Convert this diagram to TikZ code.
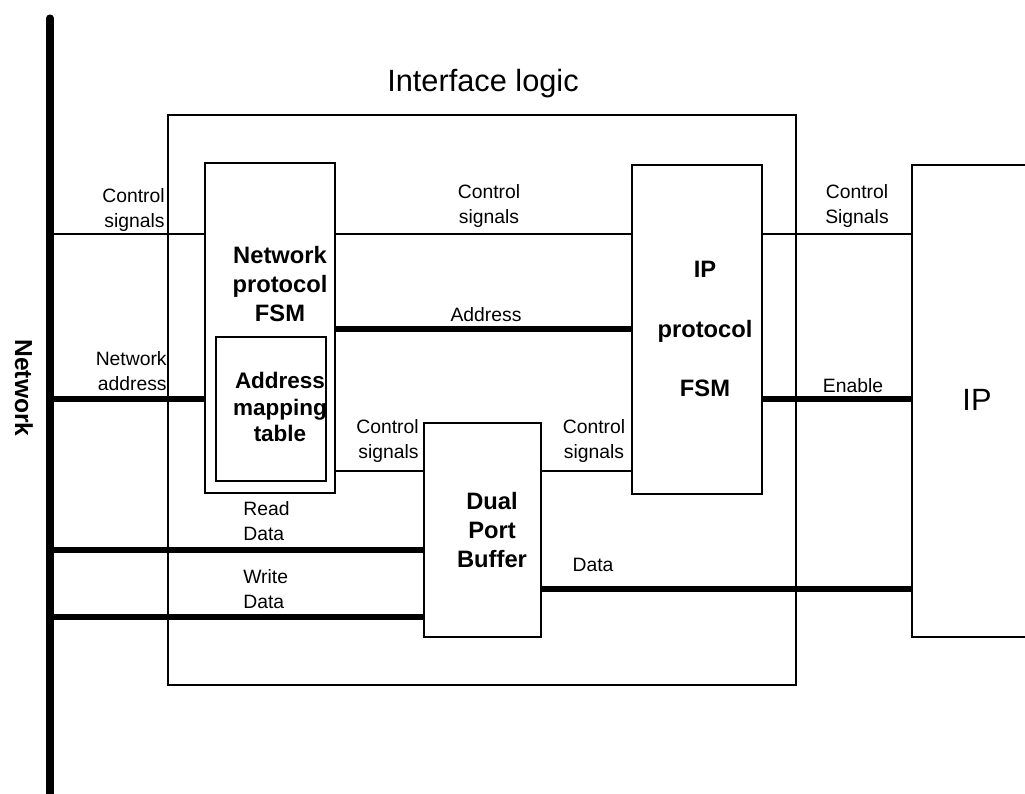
\documentclass[tikz,border=0pt]{standalone}
\usepackage{fontspec}
\setmainfont{Liberation Sans}
\usetikzlibrary{fit,positioning}
\tikzset{
myBlock/.style={
	draw, line width=0.7pt, inner sep=0pt
}
, myName/.style={
	font=\bfseries\fontsize{13.5}{16.4}\selectfont,
	align=center, inner sep=0pt
}
, myLabel/.style={
	font=\fontsize{11}{14.5}\selectfont,
	align=center, inner sep=0pt
}
% wires
, mySig/.style={line width=1.1pt}
, myBus/.style={line width=3pt}
, myNet/.style={line width=4pt,line cap=round}
}

\begin{document}
\begin{tikzpicture}[x=0.02cm,y=-0.02cm]
	\clip (0,0) rectangle (1025,794);
	% network
	\coordinate (NetTop) at (50,18);
	\coordinate (NetBot) at (50,810);
	\draw [myNet] (NetTop) -- (NetBot);
	\node[font=\bfseries\fontsize{14}{16}\selectfont, rotate=-90, inner sep=0pt] (Net) at (24,388) {Network};
	% rows on the network
	\coordinate (rowCtl) at (50,234);
	\coordinate (rowAddr) at (50,329);
	\coordinate (rowNetAddr) at (50,399);
	\coordinate (rowCtlB) at (50,471);
	\coordinate (rowRead) at (50,550);
	\coordinate (rowData) at (50,589);
	\coordinate (rowWrite) at (50,617);
	% blocks
	\node[myBlock, fit={(168,115) (796,685)}] (Iface) {};
	\node[font=\fontsize{17.5}{20}\selectfont, inner sep=0pt] (IfaceName) at (483,84) {Interface logic};
	\node[myBlock, fit={(205,163) (335,493)}] (NetFSM) {};
	\node[myBlock, fit={(216,337) (326,481)}] (AddrTab) {};
	\node[myBlock, fit={(632,165) (762,494)}] (IPFSM) {};
	\node[myBlock, fit={(424,423) (541,637)}] (Buf) {};
	\node[myBlock, fit={(912,165) (1080,637)}] (IP) {};
	% block names
	\node[myName] (NetFSMName) at (280,284) {Network\\protocol\\FSM};
	\node[myName, font=\bfseries\fontsize{12.8}{15.3}\selectfont] (AddrTabName) at (280,407) {Address\\mapping\\table};
	\node[myName, font=\bfseries\fontsize{13.5}{34}\selectfont] (IPFSMName) at (705,329) {IP\\protocol\\FSM};
	\node[myName] (BufName) at (492,530) {Dual\\Port\\Buffer};
	\node[font=\fontsize{17.5}{20}\selectfont, inner sep=0pt] (IPName) at (977,400) {IP};
	% links
	\draw [mySig] (rowCtl) -- (rowCtl -| NetFSM.west);
	\draw [mySig] (NetFSM.east |- rowCtl) -- (IPFSM.west |- rowCtl);
	\draw [mySig] (IPFSM.east |- rowCtl) -- (IP.west |- rowCtl);
	\draw [myBus] (NetFSM.east |- rowAddr) -- (IPFSM.west |- rowAddr);
	\draw [myBus] (rowNetAddr) -- (rowNetAddr -| NetFSM.west);
	\draw [myBus] (IPFSM.east |- rowNetAddr) -- (IP.west |- rowNetAddr);
	\draw [mySig] (NetFSM.east |- rowCtlB) -- (Buf.west |- rowCtlB);
	\draw [mySig] (Buf.east |- rowCtlB) -- (IPFSM.west |- rowCtlB);
	\draw [myBus] (rowRead) -- (rowRead -| Buf.west);
	\draw [myBus] (rowWrite) -- (rowWrite -| Buf.west);
	\draw [myBus] (Buf.east |- rowData) -- (IP.west |- rowData);
	% link labels
	\node[myLabel, align=right, anchor=east] (CtlA) at (165,210) {Control\\signals};
	\node[myLabel] (CtlB) at (489,206) {Control\\signals};
	\node[myLabel] (CtlC) at (857,206) {Control\\Signals};
	\node[myLabel] (Addr) at (486,315) {Address};
	\node[myLabel, align=right, anchor=east] (NetAddr) at (167,371) {Network\\address};
	\node[myLabel] (Enable) at (853,386) {Enable};
	\node[myLabel, align=right, anchor=east] (CtlD) at (419,441) {Control\\signals};
	\node[myLabel] (CtlE) at (594,441) {Control\\signals};
	\node[myLabel, align=left, anchor=west] (Read) at (243,521) {Read\\Data};
	\node[myLabel, align=left, anchor=west] (Write) at (243,589) {Write\\Data};
	\node[myLabel] (Data) at (593,565) {Data};
\end{tikzpicture}
\end{document}
